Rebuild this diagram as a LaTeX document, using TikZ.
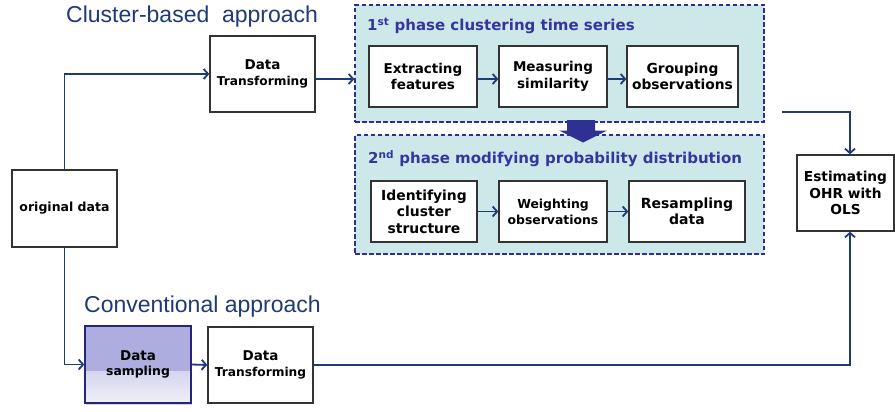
\documentclass[tikz,border=0pt]{standalone}
\usepackage{fontspec}
\setmainfont{DejaVu Sans}
\newfontfamily\arialf{Liberation Sans}
\usetikzlibrary{arrows.meta,shadows,calc}
\definecolor{navy}{HTML}{1F3A78}
\definecolor{phasecol}{HTML}{3535A0}
\definecolor{tealfill}{HTML}{CCE8E8}
\definecolor{dashcol}{HTML}{2E2E99}
\definecolor{lav}{HTML}{ADADE0}
\definecolor{bigarrow}{HTML}{2E3192}
\definecolor{boxline}{HTML}{333333}
\begin{document}
\begin{tikzpicture}[x=1pt,y=-1pt,
  box/.style={draw=boxline, line width=1.3pt, fill=white, align=center, inner sep=0pt,
    font=\fontsize{13.5}{16.5}\selectfont\bfseries},
  phasebox/.style={draw=dashcol, line width=1.2pt, dash pattern=on 4.5pt off 2.5pt, fill=tealfill, inner sep=0pt},
  phasetitle/.style={anchor=base west, inner sep=0pt, text=phasecol, font=\fontsize{15}{18}\selectfont\bfseries},
  approach/.style={anchor=base west, inner sep=0pt, text=navy, font=\fontsize{23}{27}\selectfont\arialf},
  arr/.style={draw=navy, line width=1.8pt, -{Straight Barb[length=4.5pt,width=10pt]}}
]
\useasboundingbox (0,0) rectangle (895,412);

% titles
\node[approach] (t1) at (66,23) {Cluster-based\ \ approach};
\node[approach] (t2) at (84,312.3) {Conventional approach};

% phase containers
\node[phasebox, minimum width=409pt, minimum height=117pt] (ph1) at (559.5,63.5) {};
\node[phasebox, minimum width=409pt, minimum height=119pt] (ph2) at (559.5,194.5) {};
\node[phasetitle] (pt1) at (367,31) {1\textsuperscript{st} phase clustering time series};
\node[phasetitle] (pt2) at (368,163.3) {2\textsuperscript{nd} phase modifying probability distribution};

% big block arrow
\fill[bigarrow] (567,120) -- (595,120) -- (595,130.5) -- (607,130.5) -- (583,142.5)
  -- (559,130.5) -- (567,130.5) -- cycle;

% boxes
\node[box, minimum width=105pt, minimum height=77pt] (od) at (64.5,208.5)
  {\fontsize{12.5}{15}\selectfont original data};
\node[box, minimum width=105pt, minimum height=76pt] (dt1) at (262.5,74)
  {Data\\[-1pt]{\fontsize{12.2}{15}\selectfont Transforming}};
\node[box, minimum width=108pt, minimum height=61pt] (ef) at (423,76.5) {Extracting\\features};
\node[box, minimum width=108pt, minimum height=61pt] (ms) at (553,76.5) {Measuring\\similarity};
\node[box, minimum width=111pt, minimum height=61pt, font=\fontsize{13.8}{16.5}\selectfont\bfseries] (go) at (682.5,76.5) {Grouping\\observations};
\node[box, minimum width=106pt, minimum height=61pt, font=\fontsize{13.9}{16.5}\selectfont\bfseries] (ic) at (424,211.5) {Identifying\\cluster\\structure};
\node[box, minimum width=108pt, minimum height=61pt, font=\fontsize{12.4}{16}\selectfont\bfseries] (wo) at (553,211.5) {Weighting\\observations};
\node[box, minimum width=116pt, minimum height=61pt, font=\fontsize{14}{16.5}\selectfont\bfseries] (rd) at (687,211.5) {Resampling\\data};
\node[box, minimum width=97pt, minimum height=76pt, font=\fontsize{13.7}{16.5}\selectfont\bfseries] (est) at (845.5,193) {Estimating\\OHR with\\OLS};
\node[box, draw=dashcol!80!black, fill=lav, minimum width=106pt, minimum height=77pt,
  drop shadow={opacity=0.35, shadow xshift=1pt, shadow yshift=-1.5pt},
  path picture={\shade[top color=lav, bottom color=lav!18] ([yshift=32pt]path picture bounding box.south west) rectangle (path picture bounding box.south east);}] (ds) at (138,364.5)
  {Data\\[-1pt]{\fontsize{12.4}{15}\selectfont sampling}};
\node[box, minimum width=105pt, minimum height=76pt] (dt2) at (260.5,365)
  {Data\\[-1pt]{\fontsize{12.2}{15}\selectfont Transforming}};

% helper coordinates
\coordinate (c1) at (782,112);
\coordinate (estx) at (850,0);
\coordinate (row1) at ([yshift=-5pt]dt1.east);

% connectors
\draw[arr] (od.north) |- (dt1.west);
\draw[arr] (od.south) |- (ds.west);
\draw[arr] (row1) -- (row1 -| ph1.west);
\draw[arr] (row1 -| ef.east) -- (row1 -| ms.west);
\draw[arr] (row1 -| ms.east) -- (row1 -| go.west);
\draw[arr] (ic.east) -- (wo.west);
\draw[arr] (wo.east) -- (rd.west);
\draw[arr] (ds.east) -- (dt2.west);
\draw[arr] (c1) -| (est.north -| estx);
\draw[arr] (dt2.east) -| (est.south -| estx);
\end{tikzpicture}
\end{document}
